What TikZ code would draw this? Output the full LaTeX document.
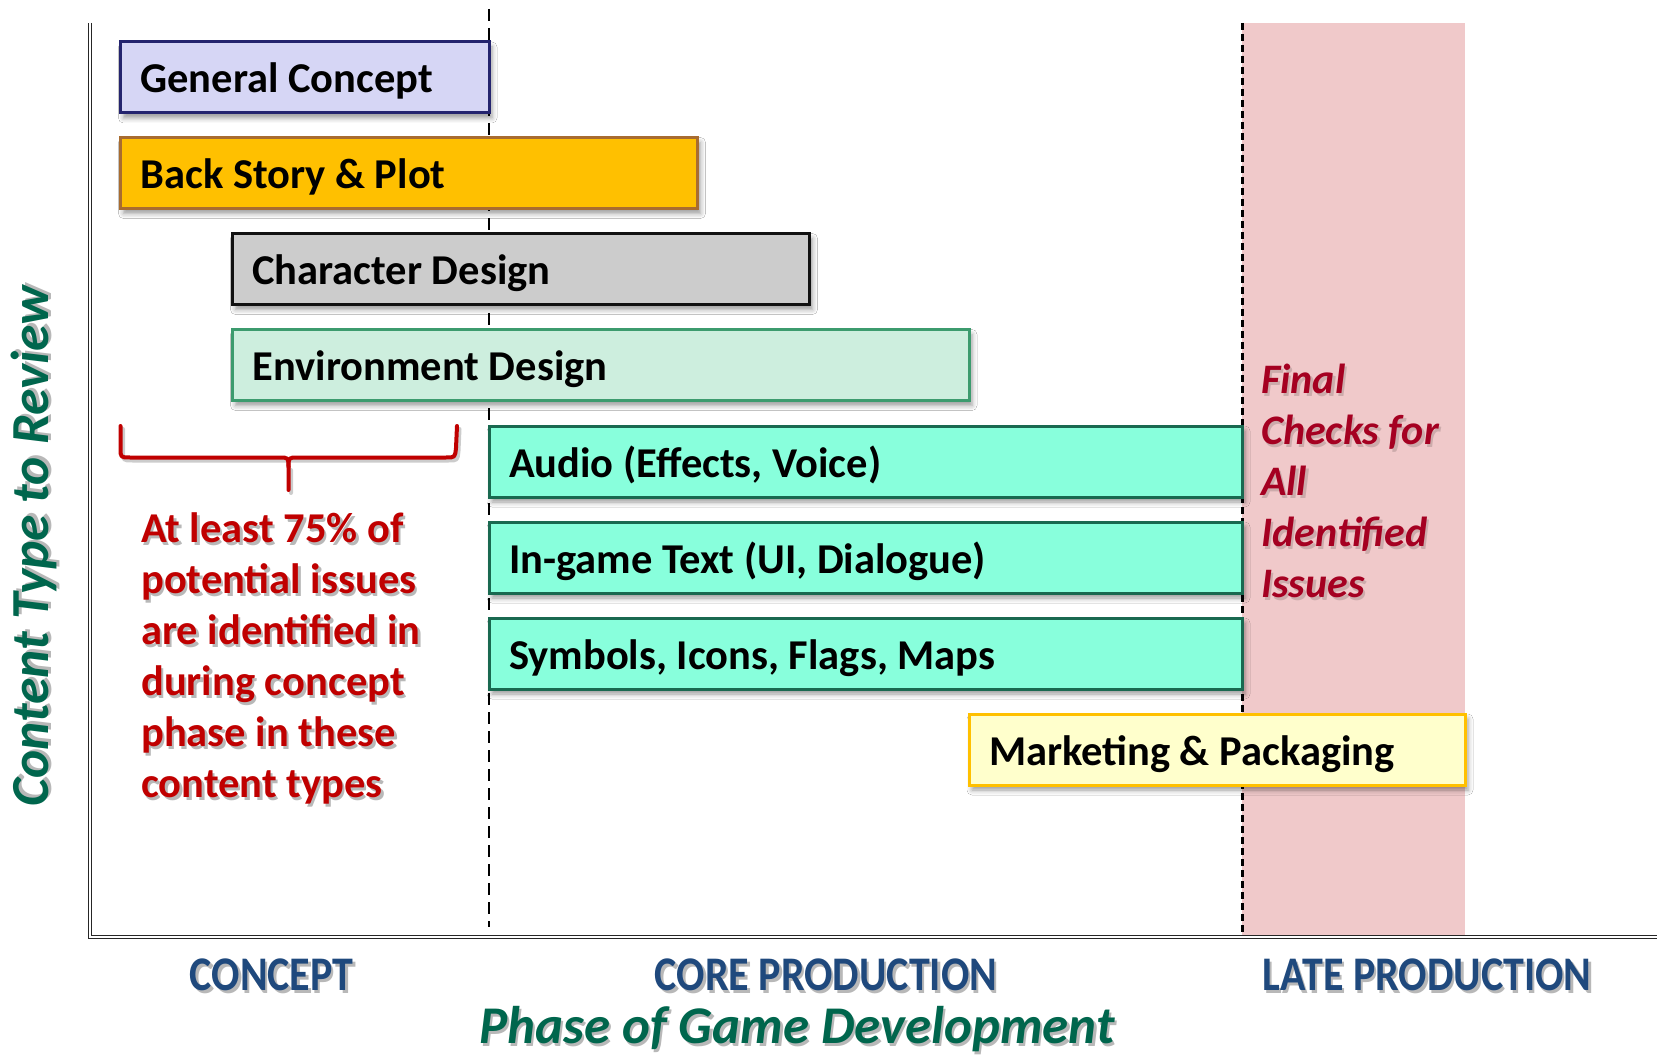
\documentclass[tikz,border=0pt]{standalone}
\usepackage{fontspec}
\usepackage{graphicx}
\setmainfont{Carlito}
\usetikzlibrary{shadows.blur}

\definecolor{gcfill}{RGB}{214,214,245}
\definecolor{gcdraw}{RGB}{36,36,110}
\definecolor{bsfill}{RGB}{255,192,0}
\definecolor{bsdraw}{RGB}{168,108,48}
\definecolor{cdfill}{RGB}{204,204,204}
\definecolor{cddraw}{RGB}{17,17,17}
\definecolor{edfill}{RGB}{205,238,222}
\definecolor{eddraw}{RGB}{60,155,110}
\definecolor{aqfill}{RGB}{136,255,220}
\definecolor{aqdraw}{RGB}{25,105,80}
\definecolor{mkfill}{RGB}{255,255,204}
\definecolor{mkdraw}{RGB}{255,192,0}
\definecolor{latepink}{RGB}{240,201,202}
\definecolor{notered}{RGB}{192,0,0}
\definecolor{finalred}{RGB}{165,0,33}
\definecolor{axisgreen}{RGB}{0,102,77}
\definecolor{phaseblue}{RGB}{31,73,125}

\begin{document}
\begin{tikzpicture}[x=1pt,y=-1pt,
  bar/.style={draw, line width=3pt, anchor=north west, outer sep=0pt, minimum height=71pt,
    inner xsep=20pt, inner ysep=0pt, text height=31pt, text depth=0pt,
    align=flush left, font=\bfseries\fontsize{42.5}{50}\selectfont,
    blur shadow={shadow xshift=3pt, shadow yshift=-5pt,
      shadow blur radius=5pt, shadow opacity=40}},
  axisline/.style={draw=black!85, line width=1.2pt, double=white, double distance=1.6pt},
  phasedash/.style={line width=2.6pt, dash pattern=on 12pt off 7pt},
  latedash/.style={line width=3pt, dash pattern=on 7pt off 4pt},
  phaselabel/.style={anchor=base, text=phaseblue, font=\bfseries\fontsize{42}{50}\selectfont},
  notetext/.style={anchor=north west, inner sep=0pt, align=flush left,
    font=\bfseries\fontsize{42.5}{51}\selectfont},
  finaltext/.style={anchor=north west, inner sep=0pt, align=flush left,
    font=\bfseries\itshape\fontsize{42}{51}\selectfont},
  ytitle/.style={rotate=90, font=\bfseries\itshape\fontsize{53.5}{60}\selectfont},
  xtitle/.style={anchor=base, font=\bfseries\itshape\fontsize{53}{60}\selectfont},
  textshadow/.style={text=black, opacity=0.28, xshift=2.5pt, yshift=-3pt},
]
% canvas
\fill[white] (0,0) rectangle (1657,1056);
\useasboundingbox (0,0) rectangle (1657,1056);

% late production band
\fill[latepink] (1242,23) rectangle (1465,937);

% phase separators
\draw[phasedash] (489,9) -- (489,927);
\draw[latedash] (1242,23) -- (1242,937);

% axes
\draw[axisline] (90,23) -- (90,937) -- (1657,937);

% content bars
\node[bar, fill=gcfill, draw=gcdraw, text width=328.5pt] (gc) at (120.5,42) {General Concept};
\node[bar, fill=bsfill, draw=bsdraw, text width=537pt] (bs) at (120.5,137.5) {Back Story \& Plot};
\node[bar, fill=cdfill, draw=cddraw, text width=537pt] (cd) at (232.5,233.5) {Character Design};
\node[bar, fill=edfill, draw=eddraw, text width=696.5pt] (ed) at (232.5,329.5) {Environment Design};
\node[bar, fill=aqfill, draw=aqdraw, text width=713pt] (au) at (489,426) {Audio (Effects, Voice)};
\node[bar, fill=aqfill, draw=aqdraw, text width=713pt] (tx) at (489,522) {In-game Text (UI, Dialogue)};
\node[bar, fill=aqfill, draw=aqdraw, text width=713pt] (sy) at (489,618) {Symbols, Icons, Flags, Maps};
\node[bar, fill=mkfill, draw=mkdraw, text width=456pt] (mk) at (969,714) {Marketing \& Packaging};

% brace over the concept phase
\begin{scope}[notered, line width=4pt, line join=round, line cap=round]
\draw[black, opacity=0.2, xshift=2.5pt, yshift=-3pt]
  (120.5,426) -- (120.5,448) .. controls (120.5,457.5) .. (130,457.5)
  -- (446,457.5) .. controls (455,457.5) .. (456,448) -- (457,426)
  (288.5,467) -- (288.5,490);
\draw (120.5,426) -- (120.5,448) .. controls (120.5,457.5) .. (130,457.5)
  -- (279,457.5) .. controls (288.5,457.5) .. (288.5,467) -- (288.5,490);
\draw (457,426) -- (456,448) .. controls (455,457.5) .. (446,457.5)
  -- (298,457.5) .. controls (288.5,457.5) .. (288.5,467);
\end{scope}

% notes
\newcommand{\notebody}{At least 75\% of\\potential issues\\are identified in\\during concept\\phase in these\\content types}
\newcommand{\finalbody}{Final\\Checks for\\All\\Identified\\Issues}
\node[notetext, textshadow] (note-sh) at (141,512) {\notebody};
\node[notetext, text=notered] (note) at (141,512) {\notebody};
\node[finaltext, textshadow, opacity=0.15] (final-sh) at (1261,364) {\finalbody};
\node[finaltext, text=finalred] (final) at (1261,364) {\finalbody};

% axis titles
\node[ytitle, textshadow] (ylab-sh) at (34,546) {Content Type to Review};
\node[ytitle, text=axisgreen] (ylab) at (34,546) {Content Type to Review};
\node[phaselabel, textshadow] (p1-sh) at (271.6,990) {\scalebox{1}[1.15]{CONCEPT}};
\node[phaselabel] (p1) at (271.6,990) {\scalebox{1}[1.15]{CONCEPT}};
\node[phaselabel, textshadow] (p2-sh) at (826,990) {\scalebox{1}[1.15]{CORE PRODUCTION}};
\node[phaselabel] (p2) at (826,990) {\scalebox{1}[1.15]{CORE PRODUCTION}};
\node[phaselabel, textshadow] (p3-sh) at (1427,990) {\scalebox{1}[1.15]{LATE PRODUCTION}};
\node[phaselabel] (p3) at (1427,990) {\scalebox{1}[1.15]{LATE PRODUCTION}};
\node[xtitle, textshadow] (xlab-sh) at (797,1043) {Phase of Game Development};
\node[xtitle, text=axisgreen] (xlab) at (797,1043) {Phase of Game Development};
\end{tikzpicture}
\end{document}
